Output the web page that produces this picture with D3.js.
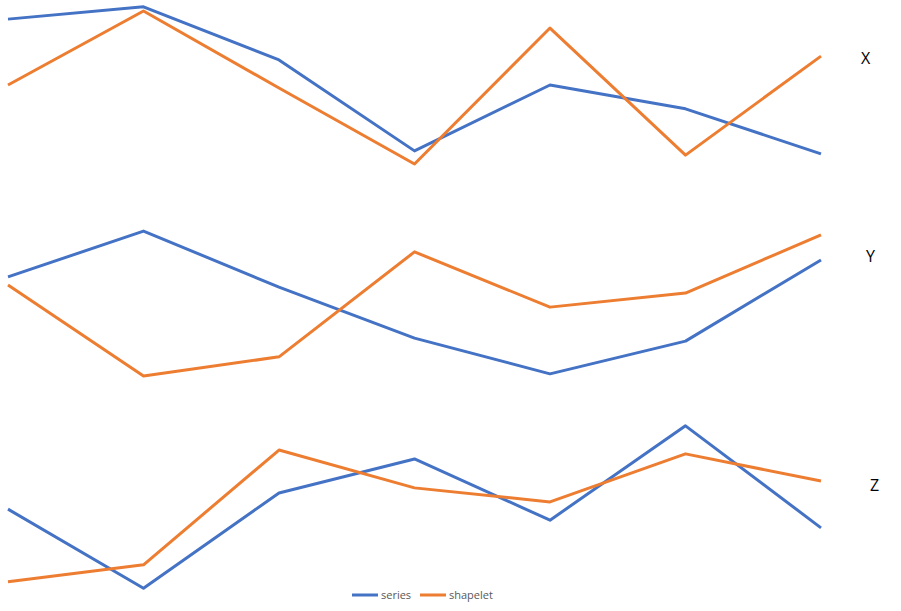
<!DOCTYPE html>
<html>
<head>
<meta charset="utf-8">
<script src="https://cdn.jsdelivr.net/npm/d3@7"></script>
<style>
  body { margin: 0; background: #fff; }
  svg { display: block; font-family: "Open Sans", "Noto Sans", sans-serif; }
</style>
</head>
<body>
<svg id="chart" width="901" height="611"></svg>
<script>
// time steps shared by all three dimensions
const steps = [0, 1, 2, 3, 4, 5, 6];
const dims = ['X', 'Y', 'Z'];

// z-normalised values
const seriesX = [1.55, 1.84, 0.59, -1.55, 0.0, -0.56, -1.62];
const shapeletX = [0.0, 1.74, -0.07, -1.86, 1.34, -1.65, 0.68];
const seriesY = [0.66, 1.74, 0.42, -0.78, -1.62, -0.85, 1.06];
const shapeletY = [0.47, -1.67, -1.22, 1.25, -0.05, 0.28, 1.65];
const seriesZ = [-0.05, -1.91, 0.33, 1.13, -0.31, 1.91, -0.49];
const shapeletZ = [-1.76, -1.36, 1.34, 0.45, 0.12, 1.25, 0.61];

const legendNames = ['series', 'shapelet'];
const colors = {series: '#4472C4', shapelet: '#ED7D31'};

const panels = [
  {name: dims[0], series: seriesX, shapelet: shapeletX, center: 85, labelX: 861, labelY: 64},
  {name: dims[1], series: seriesY, shapelet: shapeletY, center: 305, labelX: 866, labelY: 262},
  {name: dims[2], series: seriesZ, shapelet: shapeletZ, center: 507, labelX: 870, labelY: 491},
];

const svg = d3.select('#chart');
const x = d3.scaleLinear().domain([0, 6]).range([8, 821]);

panels.forEach(p => {
  const y = d3.scaleLinear().domain([-2, 2]).range([p.center + 85, p.center - 85]);
  const line = d3.line().x((d, i) => x(steps[i])).y(d => y(d));
  const g = svg.append('g');

  legendNames.forEach(k => {
    g.append('path')
      .datum(p[k])
      .attr('d', line)
      .attr('fill', 'none')
      .attr('stroke', colors[k])
      .attr('stroke-width', 3)
      .attr('stroke-linejoin', 'round');
  });

  g.append('text')
    .attr('x', p.labelX)
    .attr('y', p.labelY)
    .attr('font-size', 16)
    .attr('fill', '#000')
    .text(p.name);
});

// legend at the bottom
const legend = svg.append('g').attr('transform', 'translate(352,595)');
legendNames.forEach((k, i) => {
  const lg = legend.append('g').attr('transform', `translate(${i * 68},0)`);
  lg.append('line')
    .attr('x1', 0).attr('x2', 26)
    .attr('stroke', colors[k]).attr('stroke-width', 3);
  lg.append('text')
    .attr('x', 29).attr('y', 4)
    .attr('font-size', 11)
    .attr('fill', '#595959')
    .text(k);
});
</script>
</body>
</html>
